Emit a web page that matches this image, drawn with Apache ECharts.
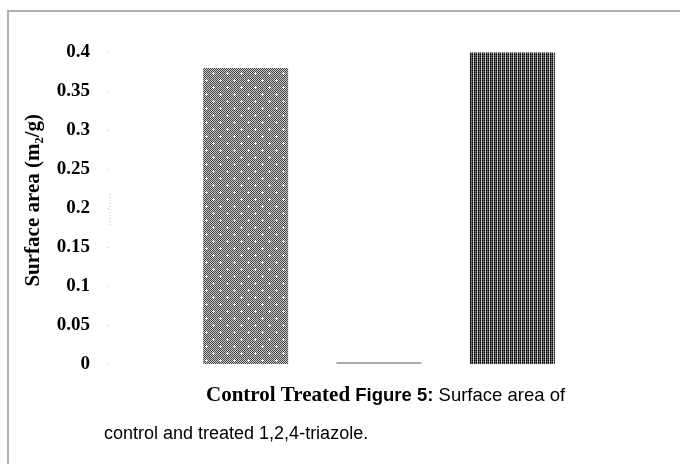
<!DOCTYPE html>
<html>
<head>
<meta charset="utf-8">
<script src="https://cdn.jsdelivr.net/npm/echarts@6/dist/echarts.min.js"></script>
<style>
  html, body { margin: 0; padding: 0; background: #fff; }
  #chart { width: 680px; height: 464px; }
</style>
</head>
<body>
<div id="chart"></div>
<script>
var categories = ['Control', '', 'Treated'];
var surfaceArea = [0.38, 0, 0.4];
var yTicks = [0, 0.05, 0.1, 0.15, 0.2, 0.25, 0.3, 0.35, 0.4];

// little pixel tiles for the hatched bar fills
function tile(w, h, pix) {
  var c = document.createElement('canvas');
  c.width = w; c.height = h;
  var ctx = c.getContext('2d');
  for (var y = 0; y < h; y++) {
    for (var x = 0; x < w; x++) {
      ctx.fillStyle = pix(x, y);
      ctx.fillRect(x, y, 1, 1);
    }
  }
  return c;
}

var dotTile = tile(14, 14, function (x, y) {
  // white plus marks on a checker background
  var px = [[3, 3], [10, 10]];
  for (var i = 0; i < px.length; i++) {
    var dx = Math.abs(x - px[i][0]), dy = Math.abs(y - px[i][1]);
    if ((dx === 0 && dy <= 1) || (dy === 0 && dx <= 1)) return '#ffffff';
  }
  return (x + y) % 2 === 0 ? '#474747' : '#c6c6c6';
});

var stripeTile = tile(4, 4, function (x, y) {
  var rows = [['#0a0a0a', '#a8a8a8', '#111111', '#626262'],
              ['#333333', '#f0f0f0', '#222222', '#8a8a8a'],
              ['#050505', '#a0a0a0', '#0a0a0a', '#555555'],
              ['#444444', '#cccccc', '#333333', '#777777']];
  return rows[y][x];
});

var fills = [
  { image: dotTile, repeat: 'repeat' },
  '#aaaaaa',
  { image: stripeTile, repeat: 'repeat' }
];

var chart = echarts.init(document.getElementById('chart'));
var option = {
  animation: false,
  backgroundColor: '#fff',
  title: [
    {
      left: 201, top: 380,
      text: '{a|Control Treated }{b|Figure 5:}{c| Surface area of}',
      textStyle: {
        rich: {
          a: { fontFamily: 'Liberation Serif', fontWeight: 'bold', fontSize: 21, color: '#000' },
          b: { fontFamily: 'Liberation Sans', fontWeight: 'bold', fontSize: 18.5, color: '#000' },
          c: { fontFamily: 'Liberation Sans', fontWeight: 'normal', fontSize: 18.5, color: '#000' }
        }
      }
    },
    {
      left: 99, top: 420,
      text: 'control and treated 1,2,4-triazole.',
      textStyle: { fontFamily: 'Liberation Sans', fontWeight: 'normal', fontSize: 18, color: '#000' }
    }
  ],
  graphic: [
    {
      type: 'rect', silent: true,
      shape: { x: 8, y: 11, width: 700, height: 500 },
      style: { fill: 'none', stroke: '#b0b0b0', lineWidth: 2 }
    },
    {
      type: 'line', silent: true,
      shape: { x1: 110, y1: 194, x2: 110, y2: 226 },
      style: { stroke: '#c8c8c8', lineWidth: 1, lineDash: [1, 2] }
    }
  ],
  grid: { left: 179, right: 101, top: 52.5, bottom: 100 },
  xAxis: {
    type: 'category',
    data: categories,
    axisLine: { show: false },
    axisTick: { show: false },
    axisLabel: { show: false },
    splitLine: { show: false }
  },
  yAxis: {
    type: 'value',
    min: yTicks[0],
    max: yTicks[yTicks.length - 1],
    interval: 0.05,
    offset: 70,
    name: 'Surface area (m\u2082/g)',
    nameLocation: 'middle',
    nameGap: 65,
    nameTextStyle: {
      fontFamily: 'Liberation Serif', fontWeight: 'bold', fontSize: 21, color: '#000',
      padding: [0, 0, 0, 16]
    },
    axisLine: { show: false },
    axisTick: { show: true, length: 1, lineStyle: { color: '#bbb' } },
    splitLine: { show: false },
    axisLabel: {
      margin: 19,
      fontFamily: 'Liberation Serif', fontWeight: 'bold', fontSize: 19, color: '#000',
      formatter: function (v) { return String(+v.toFixed(2)); }
    }
  },
  series: [{
    type: 'bar',
    barWidth: 85,
    barMinHeight: 2,
    data: surfaceArea.map(function (v, i) {
      return { value: v, itemStyle: { color: fills[i] } };
    })
  }]
};
chart.setOption(option);
</script>
</body>
</html>
